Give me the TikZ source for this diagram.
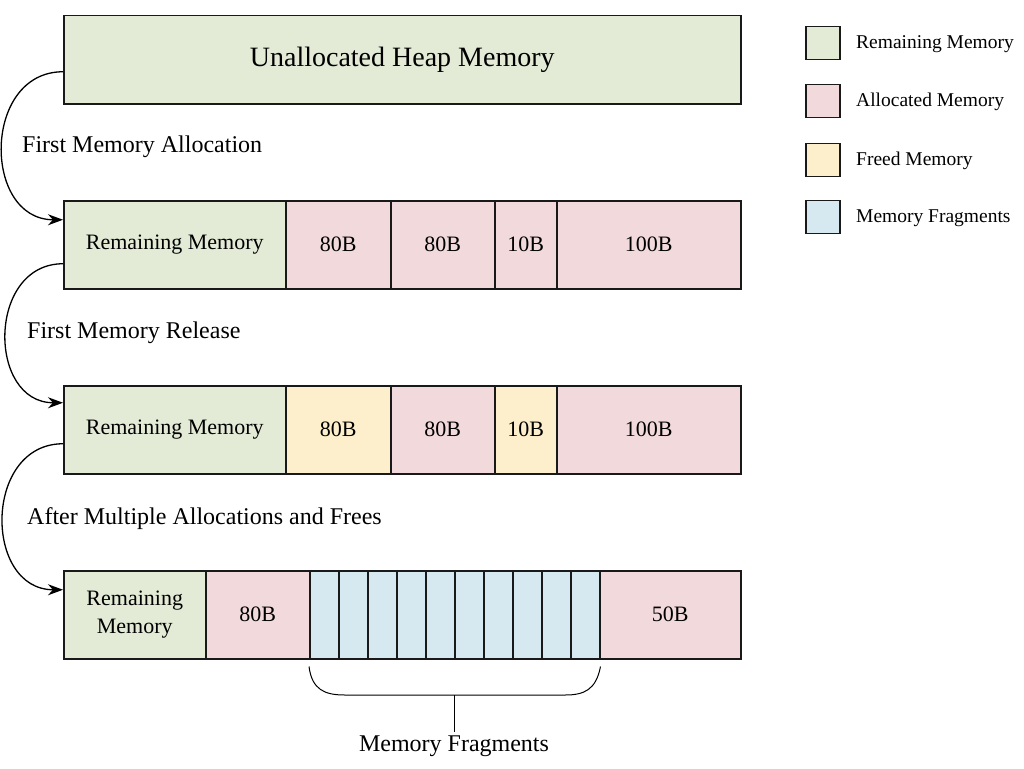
\documentclass[tikz,border=0pt]{standalone}
\usepackage{fontspec}
\setmainfont{Liberation Serif}
\usetikzlibrary{arrows.meta}
\definecolor{remcol}{HTML}{E3EBD6}
\definecolor{alloccol}{HTML}{F2DADC}
\definecolor{freecol}{HTML}{FDEFCC}
\definecolor{fragcol}{HTML}{D7E9F0}

\begin{document}
\begin{tikzpicture}[x=1pt,y=-1pt]
		\useasboundingbox (0,0) rectangle (1024,768);
		\tikzstyle{cell}=[draw=black!90,line width=1.5pt,anchor=north west,minimum height=88pt,inner sep=0pt,font=\fontsize{22}{28}\selectfont]
		\tikzstyle{steplabel}=[anchor=west,inner sep=0pt,font=\fontsize{24}{28}\selectfont]
		\tikzstyle{flow}=[-{Stealth[length=15pt,width=11pt]},line width=1.3pt,looseness=1.4]
		\tikzstyle{legendbox}=[draw=black!90,line width=1.5pt,minimum width=34pt,minimum height=33pt,inner sep=0pt]
		\tikzstyle{legendtext}=[anchor=west,inner sep=0pt,font=\fontsize{19.5}{23}\selectfont]
		% heap
		\node[cell,fill=remcol,minimum width=677pt,font=\fontsize{28}{32}\selectfont] (heap) at (63,15) {Unallocated Heap Memory};
		% first allocation
		\node[cell,fill=remcol,minimum width=222pt] (a_1) at (63,200) {Remaining Memory};
		\node[cell,fill=alloccol,minimum width=105pt] (a_2) at (285,200) {80B};
		\node[cell,fill=alloccol,minimum width=104pt] (a_3) at (390,200) {80B};
		\node[cell,fill=alloccol,minimum width=62pt] (a_4) at (494,200) {10B};
		\node[cell,fill=alloccol,minimum width=184pt] (a_5) at (556,200) {100B};
		% first release
		\node[cell,fill=remcol,minimum width=222pt] (b_1) at (63,385) {Remaining Memory};
		\node[cell,fill=freecol,minimum width=105pt] (b_2) at (285,385) {80B};
		\node[cell,fill=alloccol,minimum width=104pt] (b_3) at (390,385) {80B};
		\node[cell,fill=freecol,minimum width=62pt] (b_4) at (494,385) {10B};
		\node[cell,fill=alloccol,minimum width=184pt] (b_5) at (556,385) {100B};
		% fragmented
		\node[cell,fill=remcol,minimum width=142pt,align=center] (c_1) at (63,570) {Remaining\\Memory};
		\node[cell,fill=alloccol,minimum width=104pt] (c_2) at (205,570) {80B};
		\foreach \i in {1,...,10}{
			\node[cell,fill=fragcol,minimum width=29pt] (f_\i) at ({309+29*(\i-1)},570) {};
		}
		\node[cell,fill=alloccol,minimum width=141pt] (c_3) at (599,570) {50B};
		% steps
		\draw[flow] ([yshift=-12pt]heap.west) to[out=180,in=180] ([yshift=25pt]a_1.west);
		\draw[flow] ([yshift=-19pt]a_1.west) to[out=180,in=180] ([yshift=27pt]b_1.west);
		\draw[flow] ([yshift=-14pt]b_1.west) to[out=180,in=180] ([yshift=25pt]c_1.west);
		\node[steplabel] (s_1) at (22,147) {First Memory Allocation};
		\node[steplabel] (s_2) at (27,333) {First Memory Release};
		\node[steplabel] (s_3) at (27,519) {After Multiple Allocations and Frees};
		% brace under fragments
		\node[font=\fontsize{24}{28}\selectfont] (fraglabel) at (454,746) {Memory Fragments};
		\coordinate (bmid) at (454,695);
		\draw[line width=1pt] ([yshift=-7pt]f_1.south west) .. controls (312,690) and (325,695) .. (345,695) -- (565,695) .. controls (584,695) and (596,690) .. ([yshift=-7pt]f_10.south east);
		\draw[line width=1pt] (bmid) -- (fraglabel.north);
		% legend
		\node[legendbox,fill=remcol] (l_1) at (823,43) {};
		\node[legendbox,fill=alloccol] (l_2) at (823,101) {};
		\node[legendbox,fill=freecol] (l_3) at (823,160) {};
		\node[legendbox,fill=fragcol] (l_4) at (823,217) {};
		\node[legendtext] (t_1) at (856,44) {Remaining Memory};
		\node[legendtext] (t_2) at (856,102) {Allocated Memory};
		\node[legendtext] (t_3) at (856,161) {Freed Memory};
		\node[legendtext] (t_4) at (856,218) {Memory Fragments};
	\end{tikzpicture}
\end{document}
